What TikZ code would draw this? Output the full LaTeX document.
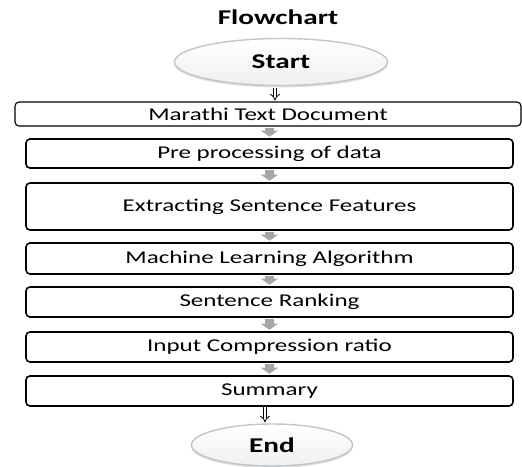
\documentclass[tikz,border=0pt]{standalone}
\usepackage{fontspec}
\setmainfont{Carlito}[FakeStretch=1.39]
\usetikzlibrary{arrows.meta,shapes.geometric,shadows}
\definecolor{ellline}{HTML}{BFC6CE}
\definecolor{blockgray}{HTML}{A6A6A6}
\begin{document}
\begin{tikzpicture}[x=1pt,y=-1pt,
  ell/.style={ellipse, draw=ellline, line width=1.4pt, top color=white, bottom color=gray!12,
    drop shadow={opacity=0.25, shadow xshift=0pt, shadow yshift=-2pt},
    inner sep=0pt, font=\fontsize{21}{24}\selectfont\bfseries},
  stepbox/.style={draw=black, line width=1.6pt, rounded corners=4pt, fill=white,
    minimum width=487pt, inner sep=0pt, font=\fontsize{18}{20}\selectfont},
  blockarrow/.style={draw=blockgray, line width=8.5pt,
    -{Triangle[length=6pt,width=17pt]}, shorten <=1.5pt, shorten >=1.5pt},
  hollowarrow/.style={draw=black, line width=0.8pt, double=white, double distance=2.6pt,
    -{Implies}, shorten >=1pt}
]
\useasboundingbox (0,0) rectangle (522,466);
\node[font=\fontsize{21}{24}\selectfont\bfseries] (title) at (278,17) {Flowchart};
\node[ell, minimum width=213pt, minimum height=47pt] (start) at (281,62) {Start};
\node[stepbox, line width=1.1pt, minimum width=506pt, minimum height=24pt] (b1) at (268,114) {Marathi Text Document};
\node[stepbox, minimum height=29pt] (b2) at (269.5,153.5) {Pre processing of data};
\node[stepbox, minimum height=47pt] (b3) at (269.5,206.5) {Extracting Sentence Features};
\node[stepbox, minimum height=31pt] (b4) at (269.5,258.5) {Machine Learning Algorithm};
\node[stepbox, minimum height=30pt] (b5) at (269.5,302) {Sentence Ranking};
\node[stepbox, minimum height=30pt] (b6) at (269.5,347) {Input Compression ratio};
\node[stepbox, minimum height=30pt] (b7) at (269.5,391) {Summary};
\node[ell, minimum width=161pt, minimum height=42pt] (end) at (272,445) {End};
\coordinate (s7) at ([xshift=-4.5pt]b7.south);

\draw[hollowarrow] ([xshift=-6pt,yshift=-2pt]start.south) -- ([xshift=7pt]b1.north);
\draw[blockarrow] (b1.south -| b2.north) -- (b2.north);
\draw[blockarrow] (b2.south) -- (b3.north);
\draw[blockarrow] (b3.south) -- (b4.north);
\draw[blockarrow] (b4.south) -- (b5.north);
\draw[blockarrow] (b5.south) -- (b6.north);
\draw[blockarrow] (b6.south) -- (b7.north);
\draw[hollowarrow] (s7) -- (end.north -| s7);
\end{tikzpicture}
\end{document}
